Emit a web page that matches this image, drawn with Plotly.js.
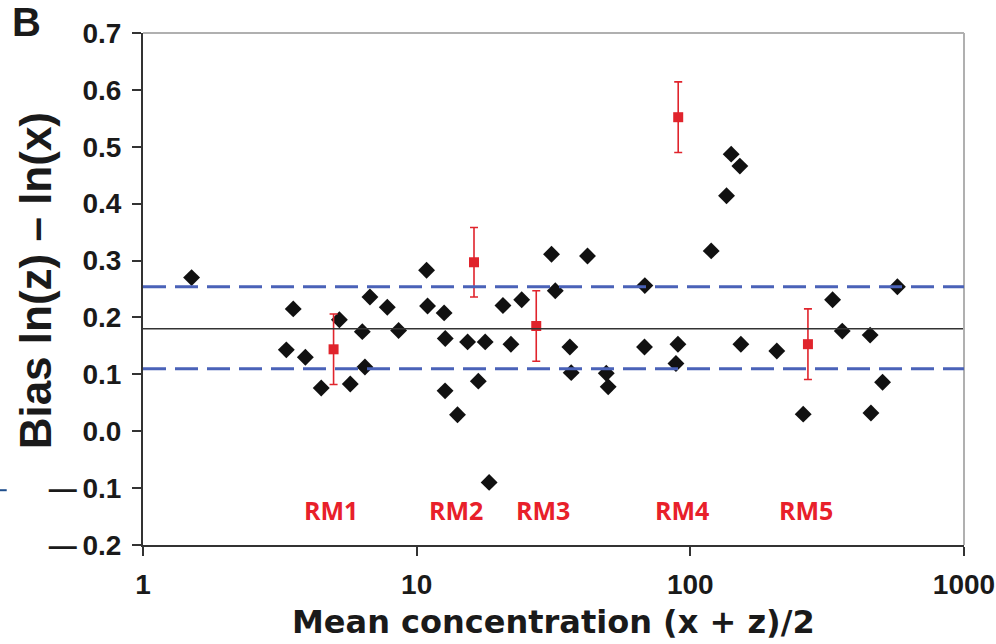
<!DOCTYPE html>
<html>
<head>
<meta charset="utf-8">
<script src="https://cdn.plot.ly/plotly-3.0.1.min.js"></script>
<style>html,body{margin:0;padding:0;background:#fff;}#chart{width:996px;height:644px;}</style>
</head>
<body>
<div id="chart"></div>
<script>
// Individual samples: mean concentration and bias
var sampleX = [1.505, 3.54, 3.34, 3.92, 4.48, 5.22, 5.72, 6.33, 6.47, 6.75, 7.81, 8.59,
  10.87, 10.96, 12.6, 12.72, 12.7, 14.1, 15.35, 16.8, 17.8, 18.4, 20.67, 22.1, 24.2,
  31.1, 32.1, 36.3, 36.7, 42.1, 49.3, 50.1, 68.2, 68.0, 90.1, 88.6, 119.2, 135.6, 141,
  151.7, 153, 207, 258.5, 331, 359, 454, 457, 504, 571];
var sampleBias = [0.270, 0.215, 0.143, 0.130, 0.076, 0.196, 0.083, 0.175, 0.113, 0.236, 0.218, 0.177,
  0.283, 0.220, 0.208, 0.163, 0.071, 0.029, 0.157, 0.088, 0.157, -0.090, 0.221, 0.153, 0.231,
  0.311, 0.247, 0.148, 0.103, 0.308, 0.102, 0.078, 0.256, 0.148, 0.153, 0.119, 0.317, 0.414, 0.487,
  0.466, 0.153, 0.141, 0.030, 0.231, 0.176, 0.169, 0.032, 0.086, 0.254];

// Reference materials
var rmNames = ["RM1", "RM2", "RM3", "RM4", "RM5"];
var rmX = [4.97, 16.2, 27.35, 90.3, 269];
var rmBias = [0.144, 0.297, 0.185, 0.552, 0.153];
var rmErr = [0.062, 0.061, 0.062, 0.062, 0.062];
var rmLabelX = [4.88, 13.9, 29.0, 93.0, 264.5];
var rmLabelY = -0.138;

// Mean bias and limits
var meanBias = 0.180;
var limitBias = [0.254, 0.110];

var yTickVals = [-0.2, -0.1, 0, 0.1, 0.2, 0.3, 0.4, 0.5, 0.6, 0.7];
var yTickText = ["\u2014\u20090.2", "\u2014\u20090.1", "0.0", "0.1", "0.2", "0.3", "0.4", "0.5", "0.6", "0.7"];
var xTickVals = [1, 10, 100, 1000];
var xTickText = ["1", "10", "100", "1000"];

var traces = [
  {
    x: sampleX, y: sampleBias, type: "scatter", mode: "markers",
    marker: {symbol: "diamond", size: 13, color: "#111111"},
    hoverinfo: "x+y", showlegend: false
  },
  {
    x: rmX, y: rmBias, type: "scatter", mode: "markers",
    marker: {symbol: "square", size: 10, color: "#e0242c"},
    error_y: {type: "data", array: rmErr, visible: true, color: "#e0242c", thickness: 1.6, width: 4},
    showlegend: false
  }
];

var shapes = [
  {type: "line", xref: "paper", x0: 0, x1: 1, yref: "y", y0: meanBias, y1: meanBias,
   line: {color: "#333333", width: 1.6}},
  {type: "line", xref: "paper", x0: 0, x1: 1, yref: "paper", y0: 1, y1: 1,
   line: {color: "#b0b0b0", width: 2}},
  {type: "line", xref: "paper", x0: 1, x1: 1, yref: "paper", y0: 0, y1: 1,
   line: {color: "#b0b0b0", width: 2}},
  {type: "line", xref: "paper", x0: -0.175, x1: -0.166, yref: "paper", y0: 0.107, y1: 0.107,
   line: {color: "#1f4e8c", width: 2}}
];
limitBias.forEach(function (v) {
  shapes.push({type: "line", xref: "paper", x0: 0, x1: 1, yref: "y", y0: v, y1: v,
    line: {color: "#4a62b8", width: 3, dash: "23px,9px"}});
});

var annotations = rmNames.map(function (n, i) {
  return {x: Math.log10(rmLabelX[i]), y: rmLabelY, xref: "x", yref: "y", text: n, showarrow: false,
    font: {family: "Open Sans, Liberation Sans, sans-serif", size: 25, color: "#e8202a", weight: "bold"},
    xanchor: "center", yanchor: "middle"};
});
annotations.push({
  xref: "paper", yref: "paper", x: -0.1315, y: 0.515, textangle: -90, showarrow: false,
  text: "Bias ln(z) \u2013 ln(x)", xanchor: "center", yanchor: "middle",
  font: {family: "Liberation Sans, Arial, sans-serif", size: 44, color: "#1a1a1a", weight: "bold"}
});
annotations.push({
  xref: "paper", yref: "paper", x: 0.5, y: -0.1504, showarrow: false,
  text: "Mean concentration (x + z)/2", xanchor: "center", yanchor: "middle",
  font: {family: "DejaVu Sans, sans-serif", size: 32, color: "#1a1a1a", weight: "bold"}
});
annotations.push({
  xref: "paper", yref: "paper", x: -0.142, y: 1.022, showarrow: false,
  text: "B", xanchor: "center", yanchor: "middle",
  font: {family: "Liberation Sans, Arial, sans-serif", size: 40, color: "#1a1a1a", weight: "bold"}
});

var layout = {
  width: 996, height: 644,
  margin: {l: 143, r: 32, t: 33, b: 99},
  paper_bgcolor: "#ffffff", plot_bgcolor: "#ffffff",
  xaxis: {
    type: "log", range: [0, 3], tickvals: xTickVals, ticktext: xTickText,
    showgrid: false, zeroline: false, showline: true, linecolor: "#333333", linewidth: 2,
    ticks: "outside", ticklen: 9, tickwidth: 2, tickcolor: "#333333",
    tickfont: {family: "Liberation Sans, Arial, sans-serif", size: 28, color: "#1a1a1a", weight: "bold"},
    ticklabelstandoff: 4
  },
  yaxis: {
    range: [-0.2, 0.7], tickvals: yTickVals, ticktext: yTickText,
    showgrid: false, zeroline: false, showline: true, linecolor: "#333333", linewidth: 2,
    ticks: "outside", ticklen: 9, tickwidth: 2, tickcolor: "#333333",
    tickfont: {family: "Liberation Sans, Arial, sans-serif", size: 28, color: "#1a1a1a", weight: "bold"},
    ticklabelstandoff: 5
  },
  shapes: shapes,
  annotations: annotations
};

Plotly.newPlot("chart", traces, layout, {displayModeBar: false, staticPlot: true});
</script>
</body>
</html>
